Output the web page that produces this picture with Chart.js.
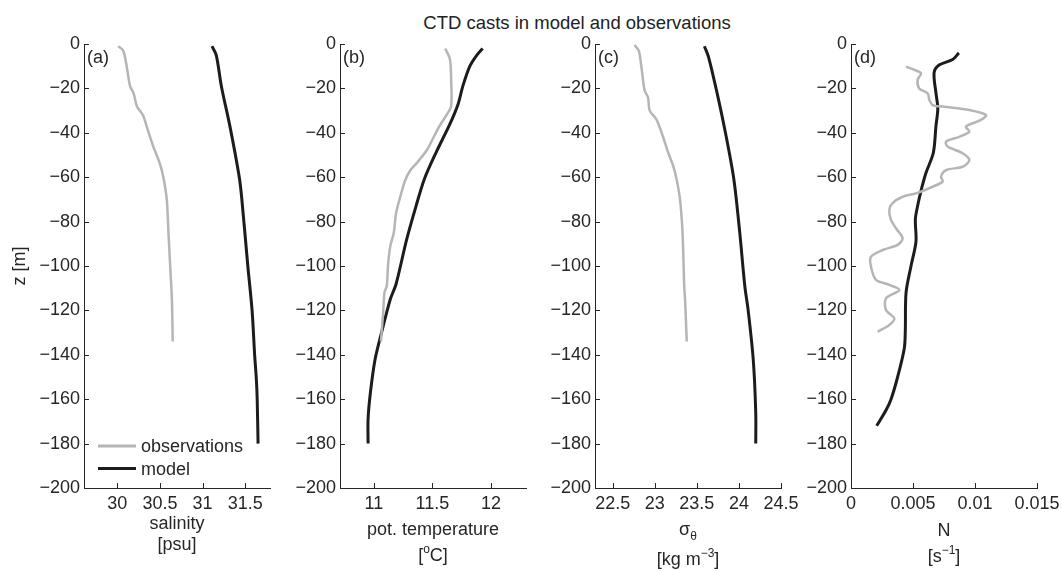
<!DOCTYPE html>
<html>
<head>
<meta charset="utf-8">
<title>CTD casts in model and observations</title>
<script src="https://cdn.jsdelivr.net/npm/chart.js@4.4.1/dist/chart.umd.min.js"></script>
<style>
  html, body { margin: 0; padding: 0; background: #fff; }
  #fig { position: relative; width: 1062px; height: 571px; overflow: hidden; }
  #fig canvas { position: absolute; top: 0; }
  #title {
    position: absolute; top: 13px; left: 377px; width: 400px;
    text-align: center; font: 18.5px/20px "Liberation Sans", Arial, sans-serif; color: #222;
  }
</style>
</head>
<body>
<div id="fig">
  <div id="title">CTD casts in model and observations</div>
  <canvas id="panelA" width="300" height="571" style="left:0px"></canvas>
  <canvas id="panelB" width="300" height="571" style="left:256px"></canvas>
  <canvas id="panelC" width="300" height="571" style="left:511px"></canvas>
  <canvas id="panelD" width="300" height="571" style="left:767px"></canvas>
</div>
<script>
"use strict"

// depths in metres (negative = down)

// (a) salinity [psu]
const salObsDepth = [-1, -3, -10, -19, -22, -28, -32, -39, -46, -54, -60, -70, -85, -100, -115, -134];
const salObs = [30.01, 30.07, 30.11, 30.15, 30.19, 30.23, 30.30, 30.36, 30.42, 30.50, 30.54, 30.58, 30.60, 30.62, 30.64, 30.65];
const salModelDepth = [-1, -5, -19, -37, -60, -70, -100, -120, -140, -151, -160, -180];
const salModel = [31.11, 31.16, 31.22, 31.32, 31.43, 31.46, 31.53, 31.58, 31.61, 31.63, 31.64, 31.65];

// (b) potential temperature [oC]
const tempObsDepth = [-2, -7, -16, -28, -32, -37, -42, -48, -54, -57, -61, -66, -76, -85, -91, -100, -109, -112, -120, -134];
const tempObs = [11.61, 11.65, 11.66, 11.66, 11.62, 11.56, 11.51, 11.45, 11.36, 11.31, 11.27, 11.24, 11.19, 11.17, 11.14, 11.12, 11.11, 11.09, 11.08, 11.06];
const tempModelDepth = [-2, -5, -10, -19, -27, -36, -49, -61, -73, -88, -108, -115, -129, -142, -157, -169, -180];
const tempModel = [11.93, 11.88, 11.82, 11.76, 11.72, 11.65, 11.53, 11.43, 11.36, 11.28, 11.19, 11.14, 11.07, 11.01, 10.97, 10.95, 10.95];

// (c) sigma theta [kg m-3]
const sigObsDepth = [-0.5, -3, -10, -21, -24, -30, -34, -42, -49, -55, -61, -70, -85, -109, -115, -134];
const sigObs = [22.76, 22.81, 22.84, 22.88, 22.92, 22.94, 23.02, 23.10, 23.16, 23.22, 23.26, 23.30, 23.33, 23.35, 23.36, 23.38];
const sigModelDepth = [-1, -6, -22, -40, -61, -85, -109, -120, -142, -166, -180];
const sigModel = [23.59, 23.64, 23.74, 23.84, 23.94, 24.01, 24.07, 24.11, 24.17, 24.20, 24.20];

// (d) buoyancy frequency N [s-1]
const nObsDepth = [-10.2, -11.7, -13.2, -16.2, -20, -22.2, -25.2, -27.5, -28.2, -29.7, -32, -34.2, -37.2, -39.5, -41.8, -44, -46.2, -49.2, -52.3, -55.3, -56.8, -59.8, -62, -64.3, -67.3, -68.8, -71.7, -74.8, -79.3, -83, -87.5, -90.5, -92.8, -95.8, -100.3, -106.3, -108.5, -110.8, -114.6, -119.8, -123.6, -126.6, -129.6];
const nObs = [0.00444, 0.0051, 0.00565, 0.00537, 0.0055, 0.00618, 0.00632, 0.00658, 0.00739, 0.00954, 0.01089, 0.01048, 0.00927, 0.00954, 0.00873, 0.00766, 0.00779, 0.009, 0.00954, 0.009, 0.00766, 0.00726, 0.00739, 0.00658, 0.00524, 0.00416, 0.00335, 0.00309, 0.00323, 0.00363, 0.00416, 0.00376, 0.00255, 0.00161, 0.00161, 0.00202, 0.00309, 0.0039, 0.00282, 0.00282, 0.00349, 0.00309, 0.00215];
const nModelDepth = [-4, -7, -9.5, -13, -22, -29, -37, -49, -58, -66, -73, -79, -89, -100, -112, -129, -137, -150, -160, -165, -172];
const nModel = [0.0087, 0.0082, 0.0071, 0.0067, 0.00685, 0.0070, 0.00685, 0.00664, 0.00605, 0.00565, 0.00537, 0.00519, 0.00524, 0.00484, 0.00444, 0.00438, 0.0043, 0.00376, 0.00323, 0.00282, 0.00207];

const yTicks = [0, -20, -40, -60, -80, -100, -120, -140, -160, -180, -200];

const FONT = "'Liberation Sans', Arial, Helvetica, sans-serif";
const INK = "#262626";
const OBS_COLOR = "#b5b5b5";
const MODEL_COLOR = "#1c1c1c";

function pairs(xs, depths) {
  return xs.map((v, i) => ({ x: v, y: depths[i] }));
}

// draws a line of text with optional sub/superscript pieces, centred on cx
function drawRich(ctx, parts, cx, baseline) {
  const fontFor = p => (p.sub || p.sup ? "12px " : "18px ") + FONT;
  let total = 0;
  parts.forEach(p => { ctx.font = fontFor(p); total += ctx.measureText(p.t).width; });
  let x = cx - total / 2;
  ctx.textAlign = "left";
  ctx.textBaseline = "alphabetic";
  parts.forEach(p => {
    ctx.font = fontFor(p);
    const dy = p.sub ? 5 : (p.sup ? -8 : 0);
    ctx.fillText(p.t, x, baseline + dy);
    x += ctx.measureText(p.t).width;
  });
}

// matlab-ish look: inward ticks, panel tag, x label, legend inside the axes
const extrasPlugin = {
  id: "extras",
  afterDraw(chart, args, opts) {
    const { ctx, chartArea: ca, scales } = chart;
    ctx.save();
    ctx.strokeStyle = INK;
    ctx.lineWidth = 1;
    ctx.beginPath();
    scales.y.ticks.forEach(t => {
      const py = Math.round(scales.y.getPixelForValue(t.value)) + 0.5;
      ctx.moveTo(ca.left, py);
      ctx.lineTo(ca.left + 5, py);
    });
    scales.x.ticks.forEach(t => {
      const px = Math.round(scales.x.getPixelForValue(t.value)) + 0.5;
      ctx.moveTo(px, ca.bottom);
      ctx.lineTo(px, ca.bottom - 5);
    });
    ctx.stroke();

    ctx.fillStyle = INK;
    ctx.font = "18px " + FONT;
    ctx.textAlign = "left";
    ctx.textBaseline = "alphabetic";
    ctx.fillText(opts.tag, ca.left + 3, ca.top + 18.5);

    const cx = (ca.left + ca.right) / 2;
    opts.xlabel.forEach(line => drawRich(ctx, line.parts, cx, ca.bottom + line.dy));

    if (opts.legend) {
      chart.data.datasets.forEach((ds, i) => {
        const y = ca.bottom - 42 + i * 22.6;
        ctx.strokeStyle = ds.borderColor;
        ctx.lineWidth = 3;
        ctx.beginPath();
        ctx.moveTo(ca.left + 14, y);
        ctx.lineTo(ca.left + 52, y);
        ctx.stroke();
        ctx.fillStyle = INK;
        ctx.font = "18px " + FONT;
        ctx.fillText(ds.label, ca.left + 57, y + 6);
      });
    }
    ctx.restore();
  }
};

function makePanel(id, xMin, xMax, step, obs, model, extras, showYTitle) {
  return new Chart(document.getElementById(id), {
    type: "scatter",
    data: {
      datasets: [
        { label: "observations", data: obs, showLine: true, borderColor: OBS_COLOR, borderWidth: 2.5,
          pointRadius: 0, tension: 0.3, borderJoinStyle: "round" },
        { label: "model", data: model, showLine: true, borderColor: MODEL_COLOR, borderWidth: 3,
          pointRadius: 0, tension: 0.3, borderJoinStyle: "round" }
      ]
    },
    options: {
      responsive: false,
      animation: false,
      events: [],
      layout: { padding: { top: 44, right: 30, left: 0, bottom: 0 } },
      plugins: { legend: { display: false }, tooltip: { enabled: false }, extras: extras },
      scales: {
        x: {
          type: "linear", min: xMin, max: xMax,
          grid: { display: false, drawTicks: false },
          border: { display: true, color: INK, width: 1 },
          ticks: {
            stepSize: step, includeBounds: false, autoSkip: false, maxRotation: 0, padding: 5,
            color: INK, font: { family: FONT, size: 18 },
            callback: v => String(Math.round(v * 10000) / 10000)
          },
          afterFit: s => { s.height = 83; }
        },
        y: {
          type: "linear", min: yTicks[yTicks.length - 1], max: yTicks[0],
          grid: { display: false, drawTicks: false },
          border: { display: true, color: INK, width: 1 },
          ticks: {
            stepSize: 20, padding: 4, color: INK, font: { family: FONT, size: 18 },
            callback: v => (v < 0 ? "\u2212" + Math.abs(v) : String(v))
          },
          title: { display: showYTitle, text: "z [m]", color: INK, font: { family: FONT, size: 18 }, padding: { top: 9, bottom: 0 } },
          afterFit: s => { s.width = 84; }
        }
      }
    },
    plugins: [extrasPlugin]
  });
}

makePanel("panelA", 29.61, 31.79, 0.5, pairs(salObs, salObsDepth), pairs(salModel, salModelDepth), {
  tag: "(a)", legend: true,
  xlabel: [
    { dy: 41, parts: [{ t: "salinity" }] },
    { dy: 62, parts: [{ t: "[psu]" }] }
  ]
}, true);

makePanel("panelB", 10.71, 12.3, 0.5, pairs(tempObs, tempObsDepth), pairs(tempModel, tempModelDepth), {
  tag: "(b)", legend: false,
  xlabel: [
    { dy: 46.5, parts: [{ t: "pot. temperature" }] },
    { dy: 73, parts: [{ t: "[" }, { t: "o", sup: true }, { t: "C]" }] }
  ]
}, false);

makePanel("panelC", 22.29, 24.5, 0.5, pairs(sigObs, sigObsDepth), pairs(sigModel, sigModelDepth), {
  tag: "(c)", legend: false,
  xlabel: [
    { dy: 47, parts: [{ t: "σ" }, { t: "θ", sub: true }] },
    { dy: 77, parts: [{ t: "[kg m" }, { t: "\u22123", sup: true }, { t: "]" }] }
  ]
}, false);

makePanel("panelD", 0, 0.015, 0.005, pairs(nObs, nObsDepth), pairs(nModel, nModelDepth), {
  tag: "(d)", legend: false,
  xlabel: [
    { dy: 48, parts: [{ t: "N" }] },
    { dy: 74, parts: [{ t: "[s" }, { t: "\u22121", sup: true }, { t: "]" }] }
  ]
}, false);
</script>
</body>
</html>
